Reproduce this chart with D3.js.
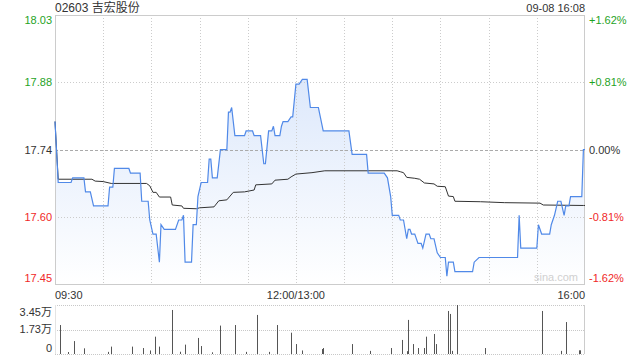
<!DOCTYPE html>
<html><head><meta charset="utf-8">
<script src="https://cdn.jsdelivr.net/npm/d3@7"></script>
<style>
body{margin:0;background:#fff}
svg{display:block}
text{font-family:"Liberation Sans",Arial,"Noto Sans CJK SC",sans-serif}
</style>
</head><body>
<svg id="c" width="640" height="360"></svg>
<script>
const title = "02603 吉宏股份";
const stamp = "09-08 16:08";
const prevClose = 17.74;
const pctRange = 0.0162;

const priceTimes = ["09:30","09:32","09:40","09:41","09:48","09:49","09:52","09:54","10:03","10:04","10:06","10:07","10:16","10:17","10:23","10:24","10:28","10:29","10:31","10:33","10:35","10:36","10:38","10:45","10:47","10:49","10:50","10:51","10:55","10:56","10:58","10:59","11:01","11:05","11:06","11:07","11:08","11:11","11:13","11:17","11:18","11:19","11:20","11:22","11:28","11:29","11:33","11:34","11:38","11:40","11:41","11:43","11:45","11:46","11:47","11:50","11:51","11:52","11:55","11:57","11:58","12:00","13:02","13:04","13:07","13:09","13:14","13:17","13:33","13:35","13:44","13:45","13:55","13:57","13:59","14:00","14:04","14:05","14:07","14:09","14:10","14:11","14:12","14:14","14:16","14:18","14:19","14:21","14:23","14:24","14:26","14:28","14:30","14:33","14:34","14:35","14:38","14:39","14:50","14:51","14:54","15:18","15:19","15:20","15:30","15:31","15:33","15:38","15:39","15:41","15:43","15:45","15:47","15:48","15:50","15:51","15:58","15:59","16:00"];
const priceValues = [17.80,17.67,17.67,17.68,17.68,17.65,17.65,17.62,17.62,17.66,17.66,17.70,17.70,17.69,17.69,17.63,17.63,17.59,17.56,17.56,17.50,17.58,17.57,17.57,17.59,17.59,17.60,17.50,17.50,17.58,17.58,17.64,17.67,17.67,17.72,17.72,17.68,17.68,17.74,17.74,17.82,17.82,17.83,17.77,17.77,17.78,17.78,17.77,17.77,17.71,17.71,17.78,17.78,17.79,17.77,17.77,17.79,17.80,17.80,17.81,17.81,17.88,17.88,17.89,17.89,17.83,17.83,17.78,17.78,17.73,17.73,17.69,17.69,17.68,17.64,17.60,17.60,17.59,17.59,17.55,17.57,17.57,17.56,17.56,17.54,17.54,17.53,17.56,17.56,17.55,17.55,17.52,17.51,17.51,17.47,17.50,17.50,17.48,17.48,17.50,17.51,17.51,17.60,17.53,17.53,17.58,17.56,17.56,17.58,17.60,17.63,17.63,17.60,17.62,17.62,17.64,17.64,17.74,17.74];

const avgTimes = ["09:30","09:32","09:53","09:55","10:00","10:05","10:27","10:29","10:31","10:33","10:35","10:42","10:43","10:49","10:50","10:58","11:00","11:09","11:12","11:17","11:21","11:28","11:34","11:35","11:45","11:47","11:55","11:57","12:00","13:10","13:18","14:03","14:05","14:07","14:09","14:14","14:17","14:20","14:26","14:28","14:33","14:35","14:38","14:39","14:55","15:10","15:32","15:34","15:59","16:00"];
const avgValues = [17.800,17.677,17.677,17.673,17.672,17.668,17.668,17.663,17.649,17.649,17.639,17.639,17.622,17.620,17.615,17.614,17.616,17.618,17.631,17.633,17.649,17.650,17.654,17.665,17.667,17.675,17.677,17.682,17.688,17.691,17.695,17.695,17.693,17.691,17.681,17.679,17.677,17.669,17.667,17.662,17.661,17.641,17.640,17.630,17.629,17.627,17.626,17.622,17.621,17.621];

const volTimes = ["09:33","09:38","09:42","09:48","10:03","10:05","10:18","10:25","10:29","10:32","10:35","10:43","10:48","10:51","10:59","11:01","11:08","11:13","11:22","11:29","11:36","11:43","11:48","11:57","12:00","13:04","13:16","13:17","13:35","13:46","13:59","14:06","14:09","14:10","14:13","14:16","14:20","14:21","14:26","14:27","14:35","14:36","14:37","14:40","14:58","15:33","15:45","15:48","15:56","15:57"];
const volValues = [20400,1400,9100,4000,1500,5200,5200,4200,2500,12200,5200,31000,1600,6600,11300,5600,1200,20000,20400,1500,27500,1500,20400,15000,7000,2500,3500,4200,7000,2200,4200,9900,2000,24000,7000,4200,4200,12200,14100,7000,30300,28200,2200,34500,4200,30300,2200,22500,2600,2600];

const priceTickLabels = ["18.03","17.88","17.74","17.60","17.45"];
const pctTickLabels = ["+1.62%","+0.81%","0.00%","-0.81%","-1.62%"];
const timeTickLabels = ["09:30","12:00/13:00","16:00"];
const volTickLabels = ["3.45万","1.73万","0"];
const volMax = 34500;

// trading minute index (lunch break removed)
function tIdx(s){
  const [h,m] = s.split(":").map(Number);
  const t = h*60+m;
  return t <= 720 ? t-570 : t-780+150;
}

const svg = d3.select("#c");
const L = 55, R = 585, T = 15, B = 284.4;
const VT = 305, VB = 354;
const GREEN = "#1fa31f", RED = "#f02828", DARK = "#333";

const x = d3.scaleLinear().domain([0,330]).range([L,R]);
const y = d3.scaleLinear().domain([prevClose*(1-pctRange), prevClose*(1+pctRange)]).range([B,T]);
const yv = d3.scaleLinear().domain([0,volMax]).range([VB,VT]);

const priceData = priceTimes.map((t,i)=>({m:tIdx(t), v:priceValues[i]}));
const avgData = avgTimes.map((t,i)=>({m:tIdx(t), v:avgValues[i]}));
const volData = volTimes.map((t,i)=>({m:tIdx(t), v:volValues[i]}));

// gradient
const defs = svg.append("defs");
const g = defs.append("linearGradient").attr("id","fillg")
  .attr("gradientUnits","userSpaceOnUse").attr("x1",0).attr("x2",0).attr("y1",T).attr("y2",B);
g.append("stop").attr("offset","0").attr("stop-color","#d2e1fa");
g.append("stop").attr("offset","1").attr("stop-color","#ffffff");

// area
svg.append("path").datum(priceData)
  .attr("d", d3.area().x(d=>x(d.m)).y0(B).y1(d=>y(d.v)))
  .attr("fill","url(#fillg)");

// grid: price panel
const gridLevels = [-2,-1,0,1,2].map(k=>prevClose*(1+k*pctRange/2));
svg.append("g").selectAll("line").data(gridLevels).join("line")
  .attr("x1",L).attr("x2",R).attr("y1",d=>Math.round(y(d))+0.5).attr("y2",d=>Math.round(y(d))+0.5)
  .attr("stroke",(d,i)=>i===2?"#aaa":"#ccc")
  .attr("stroke-dasharray",(d,i)=>i===2?"3,2":"1,2")
  .attr("display",(d,i)=>(i===0||i===4)?"none":null);
const vTicks = d3.range(30,330,30);
svg.append("g").selectAll("line").data(vTicks).join("line")
  .attr("x1",d=>Math.round(x(d))+0.5).attr("x2",d=>Math.round(x(d))+0.5)
  .attr("y1",T).attr("y2",B).attr("stroke","#ccc").attr("stroke-dasharray","1,2");
svg.append("rect").attr("x",L+0.5).attr("y",Math.round(T)+0.5).attr("width",R-L-1).attr("height",Math.round(B-T))
  .attr("fill","none").attr("stroke","#ccc");

// watermark
svg.append("text").attr("x",578).attr("y",281).attr("text-anchor","end")
  .attr("font-size",11).attr("fill","#d0d0d0").text("sina.com");

// lines
svg.append("path").datum(avgData)
  .attr("d", d3.line().x(d=>x(d.m)).y(d=>y(d.v)))
  .attr("fill","none").attr("stroke","#333").attr("stroke-width",1);
svg.append("path").datum(priceData)
  .attr("d", d3.line().x(d=>x(d.m)).y(d=>y(d.v)))
  .attr("fill","none").attr("stroke","#5089e8").attr("stroke-width",1.2);

// price labels
const labColor = i => i<2?GREEN:(i===2?DARK:RED);
const labDy = i => i===0?5:(i===4?-6:0);
svg.append("g").selectAll("text").data(gridLevels.slice().reverse()).join("text")
  .attr("x",52).attr("y",(d,i)=>y(d)+labDy(i)).attr("dy","0.35em")
  .attr("text-anchor","end").attr("font-size",11).attr("fill",(d,i)=>labColor(i))
  .text((d,i)=>priceTickLabels[i]);
svg.append("g").selectAll("text").data(gridLevels.slice().reverse()).join("text")
  .attr("x",589).attr("y",(d,i)=>y(d)+labDy(i)).attr("dy","0.35em")
  .attr("text-anchor","start").attr("font-size",11).attr("fill",(d,i)=>labColor(i))
  .text((d,i)=>pctTickLabels[i]);

// title + stamp
svg.append("text").attr("x",55).attr("y",8).attr("dy","0.35em").attr("font-size",12).attr("fill",DARK).text(title);
svg.append("text").attr("x",585).attr("y",8).attr("dy","0.35em").attr("text-anchor","end").attr("font-size",11).attr("fill",DARK).text(stamp);

// time labels
const timePos = [0,150,330];
const anchors = ["start","middle","end"];
svg.append("g").selectAll("text").data(timePos).join("text")
  .attr("x",d=>x(d)).attr("y",295).attr("dy","0.35em").attr("text-anchor",(d,i)=>anchors[i])
  .attr("font-size",11).attr("fill",DARK).text((d,i)=>timeTickLabels[i]);

// volume panel
const volGrid = [volMax, volMax/2, 0];
svg.append("g").selectAll("line").data(volGrid).join("line")
  .attr("x1",L).attr("x2",R).attr("y1",d=>Math.round(yv(d))+0.5).attr("y2",d=>Math.round(yv(d))+0.5)
  .attr("stroke","#c8c8c8").attr("stroke-dasharray","1,1");
svg.append("line").attr("x1",R-0.5).attr("x2",R-0.5).attr("y1",VT).attr("y2",VB).attr("stroke","#ccc");
svg.append("line").attr("x1",L+0.5).attr("x2",L+0.5).attr("y1",VT).attr("y2",VB).attr("stroke","#e4e4e4");
svg.append("g").selectAll("rect").data(volData).join("rect")
  .attr("x",d=>Math.round(x(d.m))).attr("width",1)
  .attr("y",d=>yv(d.v)).attr("height",d=>VB-yv(d.v))
  .attr("fill","#555");
const volDy = [7,0,-6];
svg.append("g").selectAll("text").data(volGrid).join("text")
  .attr("x",52).attr("y",(d,i)=>yv(d)+volDy[i]).attr("dy","0.35em").attr("text-anchor","end")
  .attr("font-size",11).attr("fill",DARK).text((d,i)=>volTickLabels[i]);
</script>
</body></html>
